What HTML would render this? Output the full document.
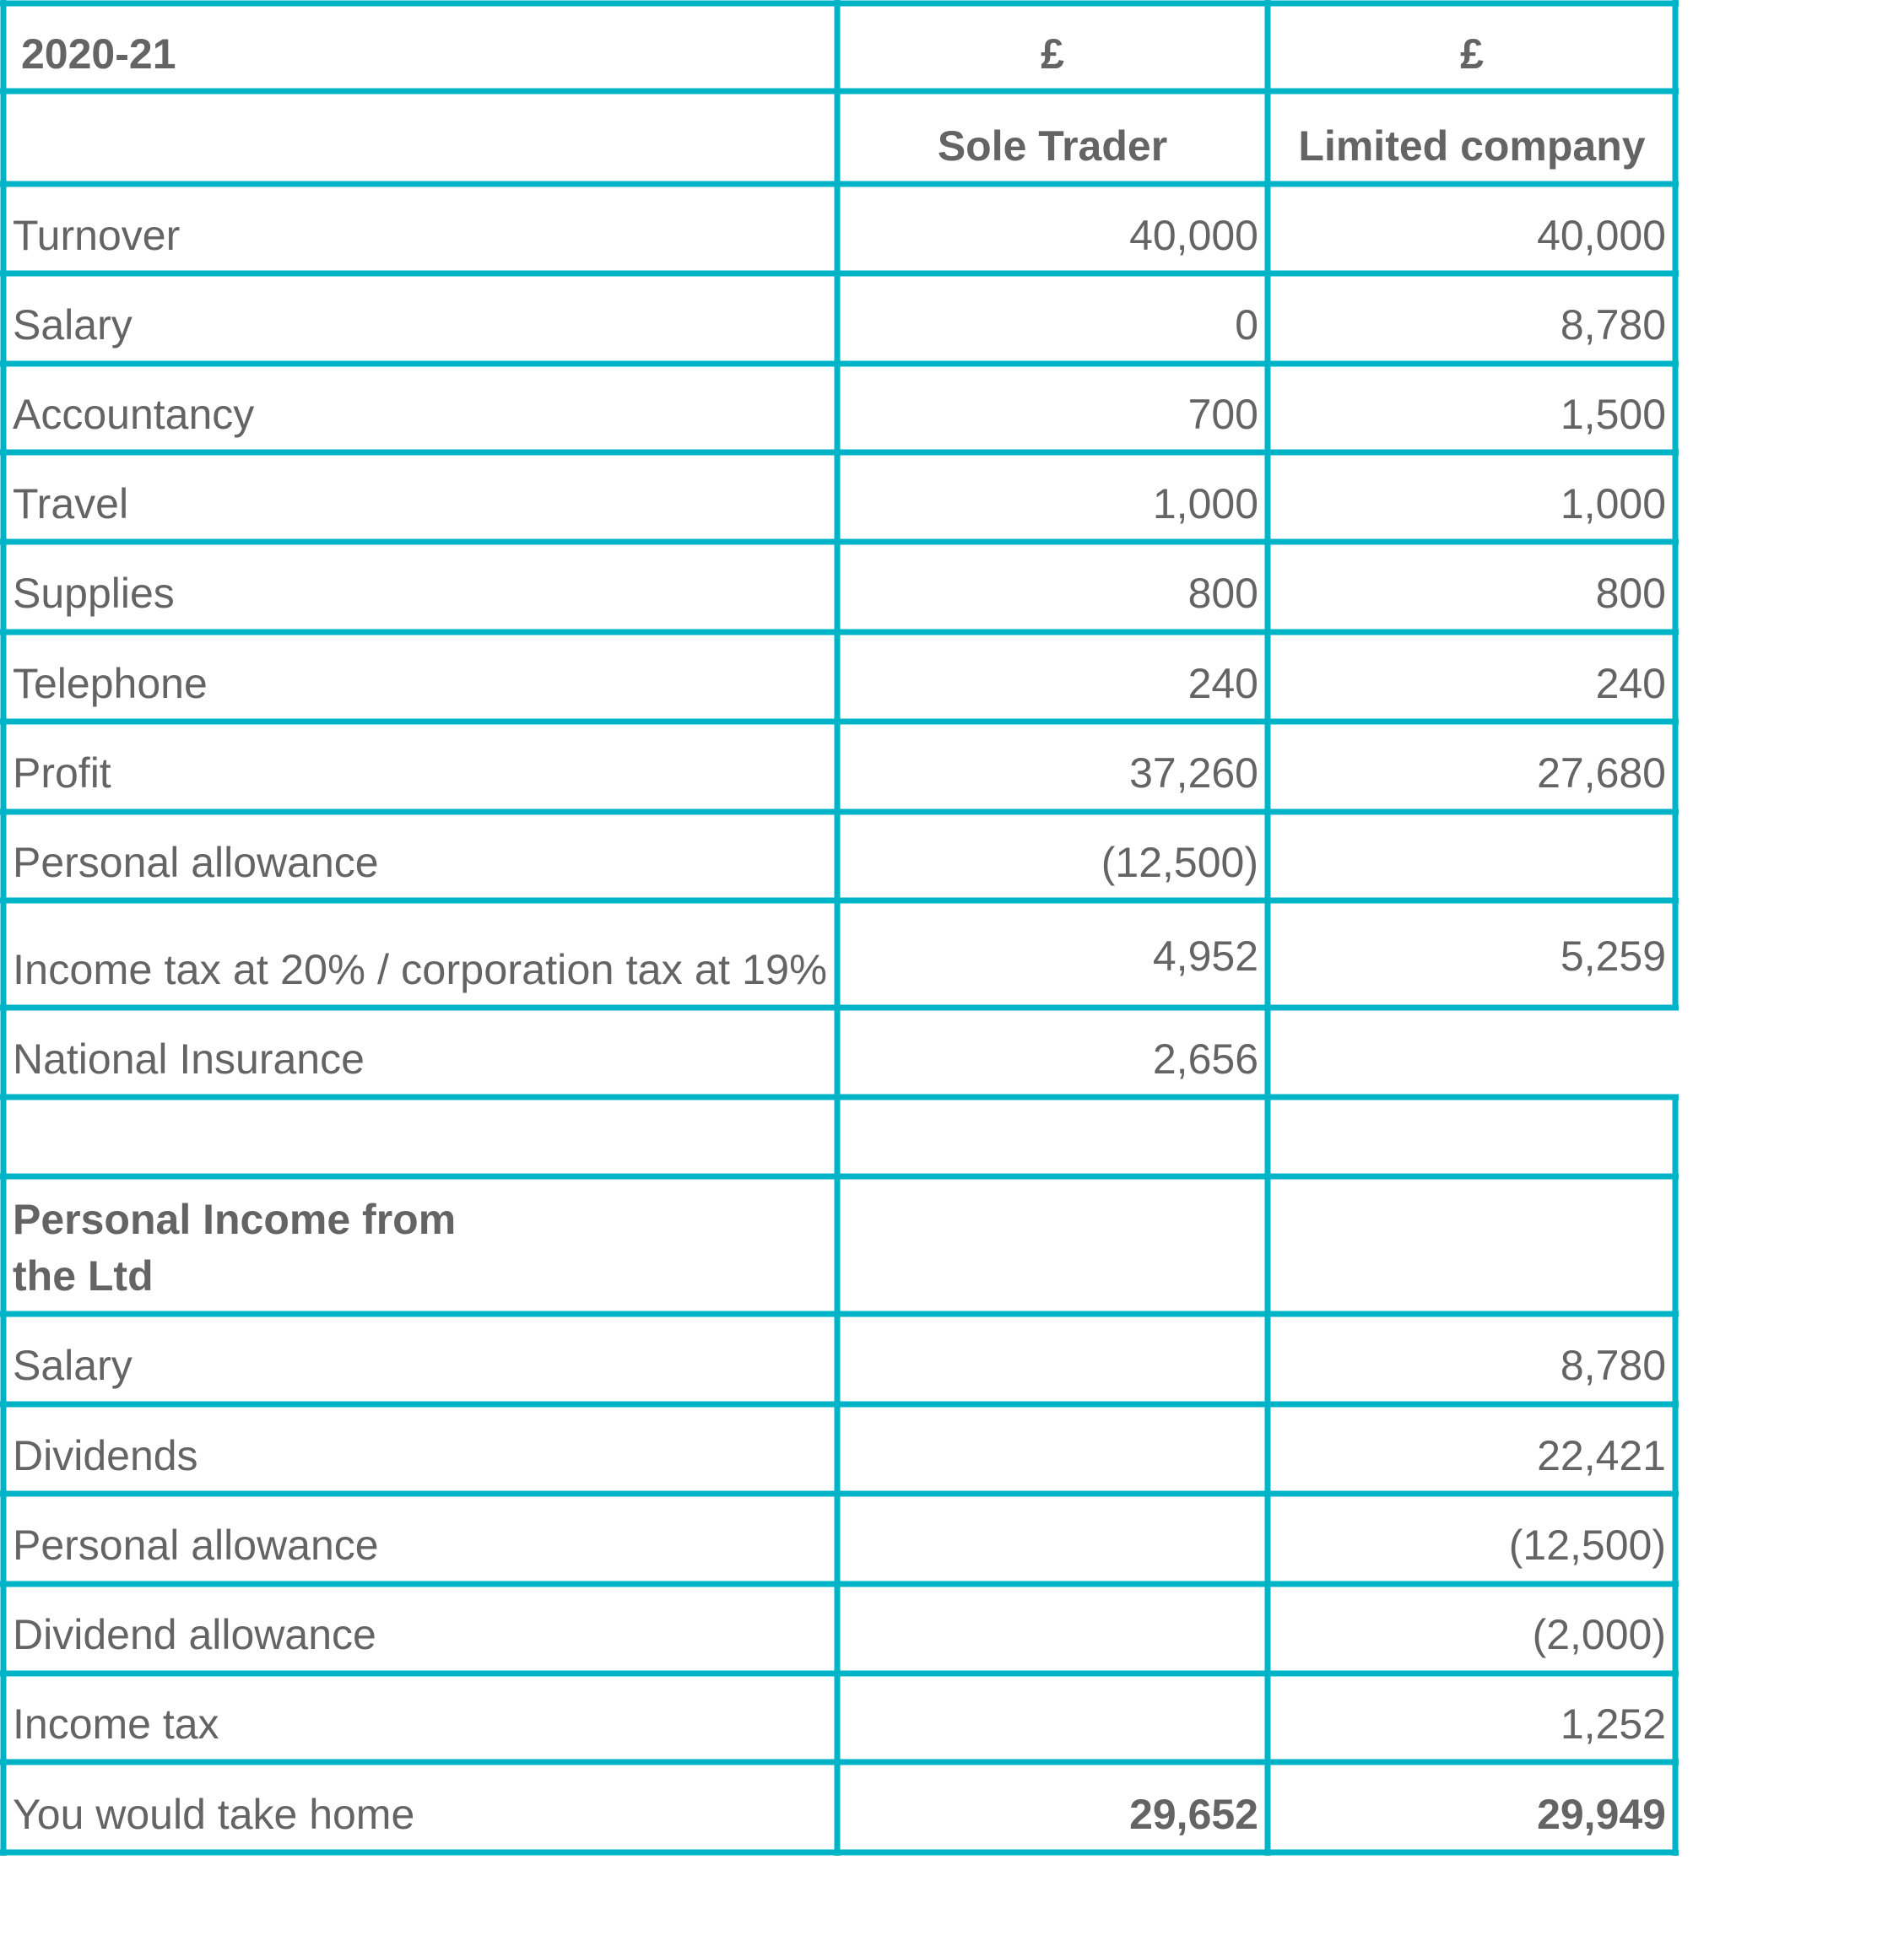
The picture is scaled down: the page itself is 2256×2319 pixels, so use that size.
<!DOCTYPE html>
<html><head><meta charset="utf-8"><style>
html,body{margin:0;padding:0;background:#fff;}
svg{display:block}
text{font-family:"Liberation Sans",sans-serif;fill:#646464;font-size:50px}
.b{font-weight:bold}
</style></head><body>
<svg width="2256" height="2319" viewBox="0 0 2256 2319">
<g stroke="#00B4C8" stroke-width="7">
<line x1="0" y1="4" x2="1989" y2="4"/>
<line x1="0" y1="108" x2="1989" y2="108"/>
<line x1="0" y1="218" x2="1989" y2="218"/>
<line x1="0" y1="324" x2="1989" y2="324"/>
<line x1="0" y1="431" x2="1989" y2="431"/>
<line x1="0" y1="536" x2="1989" y2="536"/>
<line x1="0" y1="642" x2="1989" y2="642"/>
<line x1="0" y1="749" x2="1989" y2="749"/>
<line x1="0" y1="855" x2="1989" y2="855"/>
<line x1="0" y1="962" x2="1989" y2="962"/>
<line x1="0" y1="1067" x2="1989" y2="1067"/>
<line x1="0" y1="1194" x2="1989" y2="1194"/>
<line x1="0" y1="1300" x2="1989" y2="1300"/>
<line x1="0" y1="1394" x2="1989" y2="1394"/>
<line x1="0" y1="1557" x2="1989" y2="1557"/>
<line x1="0" y1="1664" x2="1989" y2="1664"/>
<line x1="0" y1="1770" x2="1989" y2="1770"/>
<line x1="0" y1="1877" x2="1989" y2="1877"/>
<line x1="0" y1="1983" x2="1989" y2="1983"/>
<line x1="0" y1="2088" x2="1989" y2="2088"/>
<line x1="0" y1="2195" x2="1989" y2="2195"/>
<line x1="4" y1="0" x2="4" y2="2199"/>
<line x1="992" y1="0" x2="992" y2="2199"/>
<line x1="1502" y1="0" x2="1502" y2="2199"/>
<line x1="1985" y1="0" x2="1985" y2="1197"/>
<line x1="1985" y1="1297" x2="1985" y2="2199"/>
</g>
<g>
<text class="b" x="25" y="81">2020-21</text>
<text class="b" x="1247" y="81" text-anchor="middle">£</text>
<text class="b" x="1744" y="81" text-anchor="middle">£</text>
<text class="b" x="1247" y="190" text-anchor="middle">Sole Trader</text>
<text class="b" x="1744" y="190" text-anchor="middle">Limited company</text>
</g>
<g>
<text x="15" y="296">Turnover</text>
<text x="15" y="402">Salary</text>
<text x="15" y="508">Accountancy</text>
<text x="15" y="614">Travel</text>
<text x="15" y="720">Supplies</text>
<text x="15" y="827">Telephone</text>
<text x="15" y="933">Profit</text>
<text x="15" y="1039">Personal allowance</text>
<text x="15" y="1166" textLength="965" lengthAdjust="spacingAndGlyphs">Income tax at 20% / corporation tax at 19%</text>
<text x="15" y="1272">National Insurance</text>
<text class="b" x="15" y="1462">Personal Income from</text>
<text class="b" x="15" y="1529">the Ltd</text>
<text x="15" y="1635">Salary</text>
<text x="15" y="1742">Dividends</text>
<text x="15" y="1848">Personal allowance</text>
<text x="15" y="1954">Dividend allowance</text>
<text x="15" y="2060">Income tax</text>
<text x="15" y="2167">You would take home</text>
</g>
<g text-anchor="end">
<text x="1491" y="296">40,000</text>
<text x="1491" y="402">0</text>
<text x="1491" y="508">700</text>
<text x="1491" y="614">1,000</text>
<text x="1491" y="720">800</text>
<text x="1491" y="827">240</text>
<text x="1491" y="933">37,260</text>
<text x="1491" y="1039">(12,500)</text>
<text x="1491" y="1150">4,952</text>
<text x="1491" y="1272">2,656</text>
<text class="b" x="1491" y="2167">29,652</text>
</g>
<g text-anchor="end">
<text x="1974" y="296">40,000</text>
<text x="1974" y="402">8,780</text>
<text x="1974" y="508">1,500</text>
<text x="1974" y="614">1,000</text>
<text x="1974" y="720">800</text>
<text x="1974" y="827">240</text>
<text x="1974" y="933">27,680</text>
<text x="1974" y="1150">5,259</text>
<text x="1974" y="1635">8,780</text>
<text x="1974" y="1742">22,421</text>
<text x="1974" y="1848">(12,500)</text>
<text x="1974" y="1954">(2,000)</text>
<text x="1974" y="2060">1,252</text>
<text class="b" x="1974" y="2167">29,949</text>
</g>
</svg>
</body></html>
